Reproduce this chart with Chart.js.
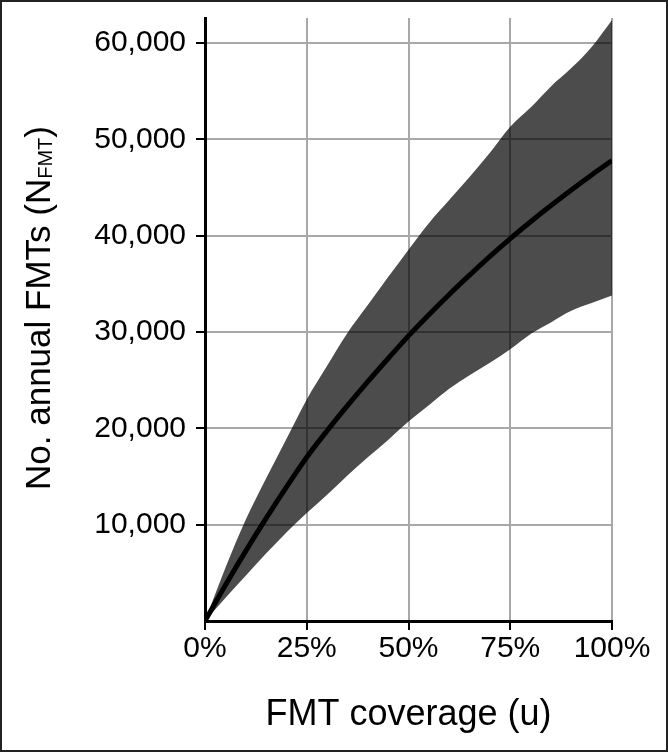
<!DOCTYPE html>
<html>
<head>
<meta charset="utf-8">
<script src="https://cdn.jsdelivr.net/npm/chart.js@4/dist/chart.umd.min.js"></script>
<style>
  html, body { margin: 0; padding: 0; background: #fff; }
  #wrap { width: 668px; height: 752px; position: relative; }
</style>
</head>
<body>
<div id="wrap"><canvas id="chart" width="668" height="752"></canvas></div>
<script>
// coverage u in %
const coverage = [0, 5, 10, 15, 20, 25, 30, 35, 40, 45, 50, 55, 60, 65, 70, 75, 80, 85, 90, 95, 100];
// mean annual FMTs
const meanFmt = [0, 3700, 7250, 10650, 13900, 17000, 19750, 22350, 24850, 27250, 29600,
                 31800, 33900, 35900, 37850, 39700, 41450, 43130, 44750, 46310, 47800];
// upper / lower bounds of the shaded band
const upperFmt = [0, 5500, 10500, 14800, 18900, 23000, 26500, 29900, 32800, 35700, 38550,
                  41300, 43700, 46100, 48600, 51300, 53300, 55500, 57400, 59600, 62400];
const lowerFmt = [0, 2400, 4700, 7000, 9200, 11200, 13100, 15100, 17000, 18800, 20700,
                  22400, 24100, 25500, 26800, 28200, 29800, 31000, 32200, 33000, 33800];
const xTicks = [0, 25, 50, 75, 100];
const yTicks = [10000, 20000, 30000, 40000, 50000, 60000];

const FONT = "'Liberation Sans', Arial, Helvetica, sans-serif";

function pts(vals) {
    return coverage.map((u, i) => ({ x: u, y: vals[i] }));
}

// y axis title with subscript + frame round the picture
const extras = {
    id: 'extras',
    afterDraw(chart) {
        const ctx = chart.ctx;
        ctx.save();
        ctx.fillStyle = '#000';
        ctx.textBaseline = 'alphabetic';
        ctx.textAlign = 'left';
        const big = '35px ' + FONT;
        const small = '20px ' + FONT;
        const p1 = 'No. annual FMTs (N', p2 = 'FMT', p3 = ')';
        ctx.font = big;
        const w1 = ctx.measureText(p1).width, w3 = ctx.measureText(p3).width;
        ctx.font = small;
        const w2 = ctx.measureText(p2).width;
        const total = w1 + w2 + w3;
        ctx.translate(50, 308);
        ctx.rotate(-Math.PI / 2);
        let x = -total / 2;
        ctx.font = big;
        ctx.fillText(p1, x, 0);
        x += w1;
        ctx.font = small;
        ctx.fillText(p2, x, 2);
        x += w2;
        ctx.font = big;
        ctx.fillText(p3, x, 0);
        ctx.restore();

        ctx.save();
        ctx.strokeStyle = '#222';
        ctx.lineWidth = 2;
        ctx.strokeRect(1, 1, chart.width - 2, chart.height - 2);
        ctx.restore();
    }
};

const ctx = document.getElementById('chart').getContext('2d');
const myChart = new Chart(ctx, {
    type: 'line',
    data: {
        datasets: [
            {
                label: 'mean',
                data: pts(meanFmt),
                borderColor: '#000',
                borderWidth: 5,
                pointRadius: 0,
                fill: false,
                cubicInterpolationMode: 'monotone'
            },
            {
                label: 'upper',
                data: pts(upperFmt),
                borderWidth: 0,
                borderColor: 'rgba(0,0,0,0)',
                backgroundColor: 'rgba(0,0,0,0.7)',
                pointRadius: 0,
                fill: 2,
                cubicInterpolationMode: 'monotone'
            },
            {
                label: 'lower',
                data: pts(lowerFmt),
                borderWidth: 0,
                borderColor: 'rgba(0,0,0,0)',
                pointRadius: 0,
                fill: false,
                cubicInterpolationMode: 'monotone'
            }
        ]
    },
    options: {
        responsive: false,
        animation: false,
        layout: { padding: { left: 0, top: 18, right: 56, bottom: 0 } },
        plugins: {
            legend: { display: false },
            tooltip: { enabled: false }
        },
        scales: {
            x: {
                type: 'linear',
                min: 0,
                max: 100,
                afterBuildTicks: (s) => { s.ticks = xTicks.map(v => ({ value: v })); },
                afterFit: (s) => { s.height = 131; s.paddingLeft = 0; s.paddingRight = 0; },
                ticks: {
                    color: '#000',
                    font: { family: FONT, size: 30 },
                    padding: 1,
                    maxRotation: 0,
                    callback: (v) => v + '%'
                },
                grid: {
                    color: '#a8a8a8',
                    lineWidth: 2,
                    tickColor: '#000',
                    tickWidth: 2,
                    tickLength: 9
                },
                border: { color: '#000', width: 3 },
                title: {
                    display: true,
                    text: 'FMT coverage (u)',
                    color: '#000',
                    font: { family: FONT, size: 36 },
                    padding: { top: 0, bottom: 15 }
                }
            },
            y: {
                type: 'linear',
                min: 0,
                max: 62600,
                afterBuildTicks: (s) => { s.ticks = yTicks.map(v => ({ value: v })); },
                afterFit: (s) => { s.width = 205; s.paddingTop = 0; s.paddingBottom = 0; },
                ticks: {
                    color: '#000',
                    font: { family: FONT, size: 30 },
                    padding: 10,
                    callback: (v) => v.toLocaleString('en-US')
                },
                grid: {
                    color: '#a8a8a8',
                    lineWidth: 2,
                    tickColor: '#000',
                    tickWidth: 2,
                    tickLength: 9
                },
                border: { color: '#000', width: 3 }
            }
        }
    },
    plugins: [extras]
});
</script>
</body>
</html>
